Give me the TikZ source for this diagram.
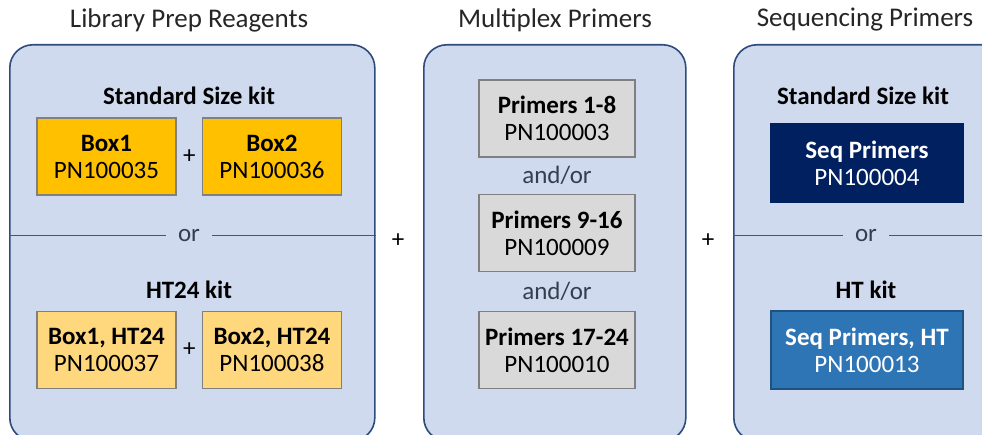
\documentclass[tikz,border=0pt]{standalone}
\usepackage{fontspec}
\setmainfont{Carlito}
\usetikzlibrary{calc,positioning}
\definecolor{panelfill}{HTML}{CFDAEF}
\definecolor{paneledge}{HTML}{2F4B7C}
\definecolor{boxedge}{HTML}{808080}
\definecolor{kitorange}{HTML}{FFC000}
\definecolor{kitlight}{HTML}{FFD77D}
\definecolor{primergray}{HTML}{D9D9D9}
\definecolor{seqnavy}{HTML}{002060}
\definecolor{seqblue}{HTML}{2E75B6}
\definecolor{ortext}{HTML}{333F50}
\tikzset{
  big/.style={font=\fontsize{25}{27}\selectfont},
  panel/.style={draw=paneledge, fill=panelfill, line width=1.6pt,
    rounded corners=23pt, anchor=north west, inner sep=0pt},
  kitbox/.style={big, draw=boxedge, line width=1.5pt, align=center,
    minimum width=139pt, minimum height=77pt, inner sep=0pt},
  primerbox/.style={kitbox, fill=primergray, minimum width=156pt},
  seqbox/.style={kitbox, text=white, minimum width=192pt, minimum height=78pt},
  heading/.style={font=\fontsize{25}{27}\selectfont\bfseries},
  title/.style={font=\fontsize{27}{30}\selectfont, text=black!85},
  ortag/.style={big, text=ortext, inner xsep=12pt, inner ysep=0pt},
  plus/.style={big, inner sep=0pt},
  divider/.style={draw=paneledge!80!gray, line width=1pt},
}

\begin{document}
\begin{tikzpicture}[x=1pt,y=-1pt]
\useasboundingbox (0,0) rectangle (982,435);
\clip (0,0) rectangle (982,435);
% panels
\node[panel, minimum width=365pt, minimum height=396pt] (libpanel) at (9,44) {};
\node[panel, minimum width=262pt, minimum height=396pt] (mpxpanel) at (423,44) {};
\node[panel, minimum width=280pt, minimum height=396pt] (seqpanel) at (733,44) {};
% titles
\node[title] (libtitle) at (189,20) {Library Prep Reagents};
\node[title] (mpxtitle) at (555,20) {Multiplex Primers};
\node[title] (seqtitle) at (865,20) {Sequencing Primers};
\node[plus] (plusA) at (398,241) {+};
\node[plus] (plusB) at (708,241) {+};

% library prep
\node[heading] (stdkit) at (189,96) {Standard Size kit};
\node[kitbox, fill=kitorange] (box1) at (106.5,156.5) {\textbf{Box1}\\PN100035};
\node[kitbox, fill=kitorange, right=25pt of box1] (box2) {\textbf{Box2}\\PN100036};
\node[plus] (plusstd) at ($(box1.east)!0.5!(box2.west)$) {+};
\node[ortag] (libor) at (189,236) {or};
\draw[divider] (libpanel.west |- libor) -- (libor.west);
\draw[divider] (libor.east) -- (libpanel.east |- libor);
\node[heading] (htkit) at (189,290) {HT24 kit};
\node[kitbox, fill=kitlight] (box1ht) at (106.5,350) {\textbf{Box1, HT24}\\PN100037};
\node[kitbox, fill=kitlight, right=25pt of box1ht] (box2ht) {\textbf{Box2, HT24}\\PN100038};
\node[plus] (plusht) at ($(box1ht.east)!0.5!(box2ht.west)$) {+};

% multiplex primers
\node[primerbox] (pri1) at (557,118.5) {\textbf{Primers 1-8}\\PN100003};
\node[primerbox] (pri2) at (557,233) {\textbf{Primers 9-16}\\PN100009};
\node[primerbox] (pri3) at (557,350) {\textbf{Primers 17-24}\\PN100010};
\node[ortag] (andor1) at ($(pri1.south)!0.5!(pri2.north)$) {and/or};
\node[ortag] (andor2) at ($(pri2.south)!0.5!(pri3.north)$) {and/or};

% sequencing primers
\node[heading] (seqstd) at (863,96) {Standard Size kit};
\node[seqbox, fill=seqnavy, draw=seqnavy] (seqp) at (867,163) {\textbf{Seq Primers}\\PN100004};
\node[ortag] (seqor) at (866,236) {or};
\draw[divider] (seqpanel.west |- seqor) -- (seqor.west);
\draw[divider] (seqor.east) -- (seqpanel.east |- seqor);
\node[heading] (seqht) at (866,290) {HT kit};
\node[seqbox, fill=seqblue, draw=seqblue!70!black] (seqpht) at (867,350) {\textbf{Seq Primers, HT}\\PN100013};
\end{tikzpicture}
\end{document}
